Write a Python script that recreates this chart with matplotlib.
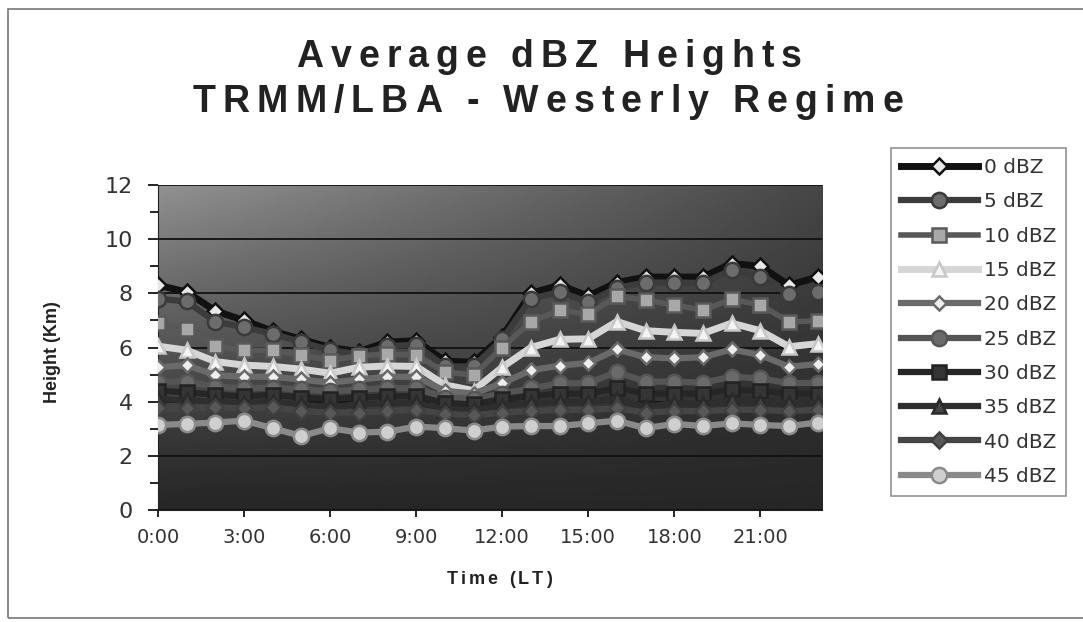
import numpy as np
import matplotlib
matplotlib.use("Agg")
from matplotlib import pyplot as plt
from matplotlib.patches import Rectangle

plt.rcParams['font.family'] = ['Liberation Sans', 'DejaVu Sans']

hours = list(range(24))
tick_hours = [0, 3, 6, 9, 12, 15, 18, 21]
tick_labels = ['0:00', '3:00', '6:00', '9:00', '12:00', '15:00', '18:00', '21:00']

dbz_labels = ['0 dBZ', '5 dBZ', '10 dBZ', '15 dBZ', '20 dBZ',
              '25 dBZ', '30 dBZ', '35 dBZ', '40 dBZ', '45 dBZ']

h00 = [8.3, 8.05, 7.35, 7.0, 6.6, 6.3, 6.0, 5.85, 6.2, 6.25, 5.5, 5.45,
       6.4, 8.0, 8.3, 7.9, 8.4, 8.6, 8.6, 8.6, 9.1, 9.0, 8.3, 8.6]
h05 = [7.8, 7.7, 6.95, 6.75, 6.5, 6.2, 5.9, 5.75, 6.05, 6.1, 5.3, 5.3,
       6.3, 7.8, 8.05, 7.68, 8.2, 8.4, 8.4, 8.38, 8.86, 8.6, 7.96, 8.06]
h10 = [6.92, 6.67, 6.05, 5.9, 5.9, 5.72, 5.52, 5.7, 5.75, 5.72, 5.1, 4.98,
       6.0, 6.95, 7.38, 7.22, 7.9, 7.75, 7.57, 7.38, 7.78, 7.57, 6.95, 6.98]
h15 = [6.05, 5.9, 5.48, 5.35, 5.3, 5.2, 5.05, 5.27, 5.32, 5.3, 4.62, 4.41,
       5.27, 6.0, 6.3, 6.32, 6.96, 6.62, 6.56, 6.52, 6.9, 6.62, 6.03, 6.14]
h20 = [5.27, 5.35, 4.98, 4.92, 4.92, 4.82, 4.7, 4.82, 4.92, 4.92, 4.4, 4.3,
       4.68, 5.16, 5.33, 5.43, 5.93, 5.64, 5.6, 5.64, 5.93, 5.72, 5.29, 5.39]
h25 = [4.74, 4.74, 4.55, 4.5, 4.52, 4.45, 4.38, 4.45, 4.5, 4.5, 4.15, 4.1,
       4.3, 4.49, 4.68, 4.68, 5.1, 4.74, 4.74, 4.7, 4.92, 4.86, 4.68, 4.7]
h30 = [4.4, 4.35, 4.25, 4.2, 4.25, 4.15, 4.1, 4.15, 4.2, 4.2, 3.95, 3.9,
       4.1, 4.2, 4.3, 4.3, 4.5, 4.3, 4.3, 4.3, 4.45, 4.4, 4.3, 4.3]
h35 = [4.1, 4.05, 4.0, 3.95, 4.0, 3.9, 3.8, 3.9, 3.95, 3.95, 3.7, 3.7,
       3.85, 3.95, 4.0, 4.0, 4.1, 3.8, 3.95, 3.9, 4.05, 4.0, 3.95, 3.95]
h40 = [3.75, 3.75, 3.8, 3.75, 3.8, 3.65, 3.6, 3.6, 3.65, 3.7, 3.55, 3.5,
       3.6, 3.65, 3.7, 3.7, 3.75, 3.6, 3.65, 3.65, 3.7, 3.7, 3.65, 3.7]
h45 = [3.14, 3.18, 3.23, 3.3, 3.02, 2.73, 3.02, 2.86, 2.89, 3.08, 3.02, 2.93,
       3.08, 3.1, 3.1, 3.2, 3.3, 3.02, 3.18, 3.1, 3.2, 3.14, 3.1, 3.23]

series = [h00, h05, h10, h15, h20, h25, h30, h35, h40, h45]

# line colour, marker, marker face, marker edge, line width, marker size
styles = [
    ('#111111', 'D', '#e8e8e8', '#111111', 5.0, 8),
    ('#3c3c3c', 'o', '#6c6c6c', '#3a3a3a', 4.5, 11),
    ('#585858', 's', '#a8a8a8', '#5a5a5a', 4.0, 10),
    ('#d6d6d6', '^', '#f4f4f4', '#c8c8c8', 5.0, 10),
    ('#6a6a6a', 'D', '#eeeeee', '#6a6a6a', 4.5, 7),
    ('#555555', 'o', '#6a6a6a', '#555555', 4.5, 11),
    ('#262626', 's', '#353535', '#222222', 4.5, 10),
    ('#2e2e2e', '^', '#444444', '#2a2a2a', 4.5, 10),
    ('#454545', 'D', '#585858', '#404040', 4.5, 8),
    ('#8a8a8a', 'o', '#cfcfcf', '#8a8a8a', 4.5, 11),
]

W, H = 1083, 622
fig = plt.figure(figsize=(W / 100, H / 100), dpi=100)
renderer = fig.canvas.get_renderer()


def text_width(s, **kw):
    t = fig.text(0, 0, s, **kw)
    w = t.get_window_extent(renderer).width
    t.remove()
    return w


def spaced_text(x, y, s, gap, **kw):
    '''draws s centred at pixel (x, y) with gap extra pixels between letters'''
    ref = text_width('xx', **kw)
    adv = [text_width('x' + ch + 'x', **kw) - ref for ch in s]
    total = sum(adv) + gap * (len(s) - 1)
    cx = x - total / 2
    for ch, a in zip(s, adv):
        if ch != ' ':
            fig.text(cx / W, 1 - y / H, ch, ha='left', va='center', **kw)
        cx += a + gap


fig.patches.append(Rectangle((8 / W, 4 / H), 1.1, 609 / H, transform=fig.transFigure,
                             fill=False, edgecolor='#777777', linewidth=1.2))

ax = fig.add_axes([158 / W, 112 / H, 664 / W, 325 / H])

# plot area background: light top-left fading to dark bottom-right
gx, gy = np.meshgrid(np.linspace(0, 1, 200), np.linspace(0, 1, 200))
grad = 0.15 + 0.42 * gy ** 1.2 * (1 - 0.7 * gx)
ax.imshow(grad, extent=[0, 1, 0, 1], transform=ax.transAxes, origin='lower',
          aspect='auto', cmap='gray', vmin=0, vmax=1, zorder=0)

for vals, lab, st in zip(series, dbz_labels, styles):
    lc, mk, mf, me, lw, ms = st
    ax.plot(hours, vals, color=lc, lw=lw, marker=mk, markersize=ms,
            markerfacecolor=mf, markeredgecolor=me, markeredgewidth=1.8,
            label=lab, zorder=3)

ax.set_xlim(0, 23.15)
ax.set_ylim(0, 12)
ax.set_yticks([0, 2, 4, 6, 8, 10, 12])
ax.set_yticks([1, 3, 5, 7, 9, 11], minor=True)
ax.set_xticks(tick_hours)
ax.set_xticklabels(tick_labels)
ax.grid(axis='y', which='major', color='#111111', linewidth=1.3, zorder=1)
ax.set_axisbelow(True)
for s in ['top', 'right']:
    ax.spines[s].set_visible(False)
ax.spines['left'].set_color('#222222')
ax.spines['bottom'].set_color('#222222')
ax.tick_params(axis='y', which='major', length=7, width=1.2, labelsize=16,
               labelcolor='#333333', pad=11)
ax.tick_params(axis='y', which='minor', length=6, width=1.2)
ax.tick_params(axis='x', length=5, width=1.2, labelsize=14, labelcolor='#333333', pad=8)
for lbl in ax.get_xticklabels() + ax.get_yticklabels():
    lbl.set_fontfamily('DejaVu Sans')

ax.set_ylabel('Height (Km)', fontsize=13, fontweight='bold', color='#222222')
ax.yaxis.set_label_coords(-0.146, 0.486)

spaced_text(499, 579, 'Time (LT)', 3, fontsize=13, fontweight='bold', color='#222222')
spaced_text(549, 57, 'Average dBZ Heights', 7, fontsize=27, fontweight='bold', color='#222222')
spaced_text(548, 102, 'TRMM/LBA - Westerly Regime', 7, fontsize=27, fontweight='bold',
            color='#222222')

leg = ax.legend(loc='upper left', bbox_to_anchor=(891 / W, 1 - 148 / H),
                bbox_transform=fig.transFigure, borderaxespad=0,
                prop={'family': 'DejaVu Sans', 'size': 14.5}, handlelength=3.8,
                labelspacing=0.76, handletextpad=0.3, borderpad=0.5,
                frameon=True, fancybox=False, edgecolor='#777777')
leg.get_frame().set_linewidth(1.2)
for t in leg.get_texts():
    t.set_color('#333333')

fig.savefig('out.png', dpi=100)
